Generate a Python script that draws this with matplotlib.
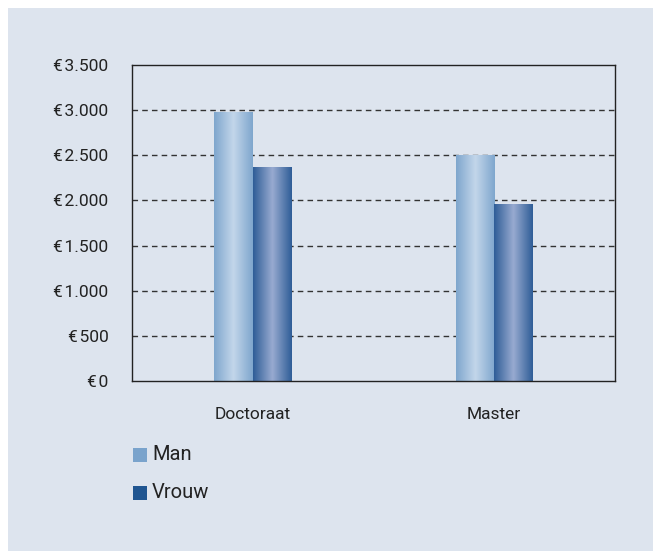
import numpy as np
import matplotlib
matplotlib.use("Agg")
from matplotlib import pyplot as plt
from matplotlib.patches import Rectangle
from matplotlib.colors import LinearSegmentedColormap

plt.rcParams['font.family'] = ['Roboto', 'DejaVu Sans']

# Data
categories = ["Doctoraat", "Master"]
man = [2970, 2500]
vrouw = [2370, 1950]
yticks = [0, 500, 1000, 1500, 2000, 2500, 3000, 3500]
ytick_labels = ["€\u200a0", "€\u200a500", "€\u200a1.000", "€\u200a1.500", "€\u200a2.000",
                "€\u200a2.500", "€\u200a3.000", "€\u200a3.500"]

W, H = 653, 551
fig = plt.figure(figsize=(W / 100, H / 100), dpi=100)
fig.patch.set_facecolor("white")

# Background panel
panel_bg = "#dde4ee"
fig.patches.append(Rectangle((8 / W, 0), 1 - 8 / W, 1 - 8 / H, transform=fig.transFigure,
                             facecolor=panel_bg, edgecolor="none", zorder=-1))

ax = fig.add_axes([132 / W, 1 - 381 / H, (615 - 132) / W, (381 - 65) / H])
ax.set_zorder(1)
ax.set_facecolor(panel_bg)

# Gradient colormaps (edge -> center -> edge)
cmap_man = LinearSegmentedColormap.from_list("man", ["#7ea6cd", "#c3d6ea", "#7ea6cd"])
cmap_vrouw = LinearSegmentedColormap.from_list("vrouw", ["#2e5d97", "#98aad0", "#2e5d97"])
grad = np.linspace(0, 1, 256).reshape(1, -1)

x = np.arange(len(categories))
w = 0.16
for series, offset, cmap in [(man, -w / 2, cmap_man), (vrouw, w / 2, cmap_vrouw)]:
    bars = ax.bar(x + offset, series, width=w, color="none", edgecolor="none", zorder=3)
    for b in bars:
        x0, y0 = b.get_x(), b.get_y()
        ax.imshow(grad, cmap=cmap, aspect="auto", zorder=3, interpolation="bilinear",
                  extent=[x0, x0 + b.get_width(), y0, y0 + b.get_height()])

ax.set_xlim(-0.5, 1.5)
ax.set_ylim(0, 3500)

# Grid
for yv in yticks[1:-1]:
    ax.axhline(yv, color="#333333", lw=1.0, ls=(0, (4, 3)), zorder=2)

for s in ax.spines.values():
    s.set_color("#222222")
    s.set_linewidth(1.0)
    s.set_zorder(4)

ax.set_yticks(yticks)
ax.set_yticklabels(ytick_labels)
ax.set_xticks(x)
ax.set_xticklabels(categories)
ax.tick_params(axis="y", length=0, pad=17, labelsize=12.5, labelcolor="#222222")
ax.tick_params(axis="x", length=0, pad=19, labelsize=12.5, labelcolor="#222222")

# Legend
legend_items = [("Man", "#7aa3cc"), ("Vrouw", "#1f5591")]
for i, (lab, col) in enumerate(legend_items):
    yc = 455 + i * 38
    fig.patches.append(Rectangle((133 / W, 1 - (yc + 7) / H), 14 / W, 14 / H,
                                 transform=fig.transFigure, facecolor=col,
                                 edgecolor="none", zorder=2))
    fig.text(152 / W, 1 - yc / H, lab, fontsize=14.5, color="#222222", va="center", ha="left")

fig.savefig("out.png", dpi=100, facecolor=fig.get_facecolor())
